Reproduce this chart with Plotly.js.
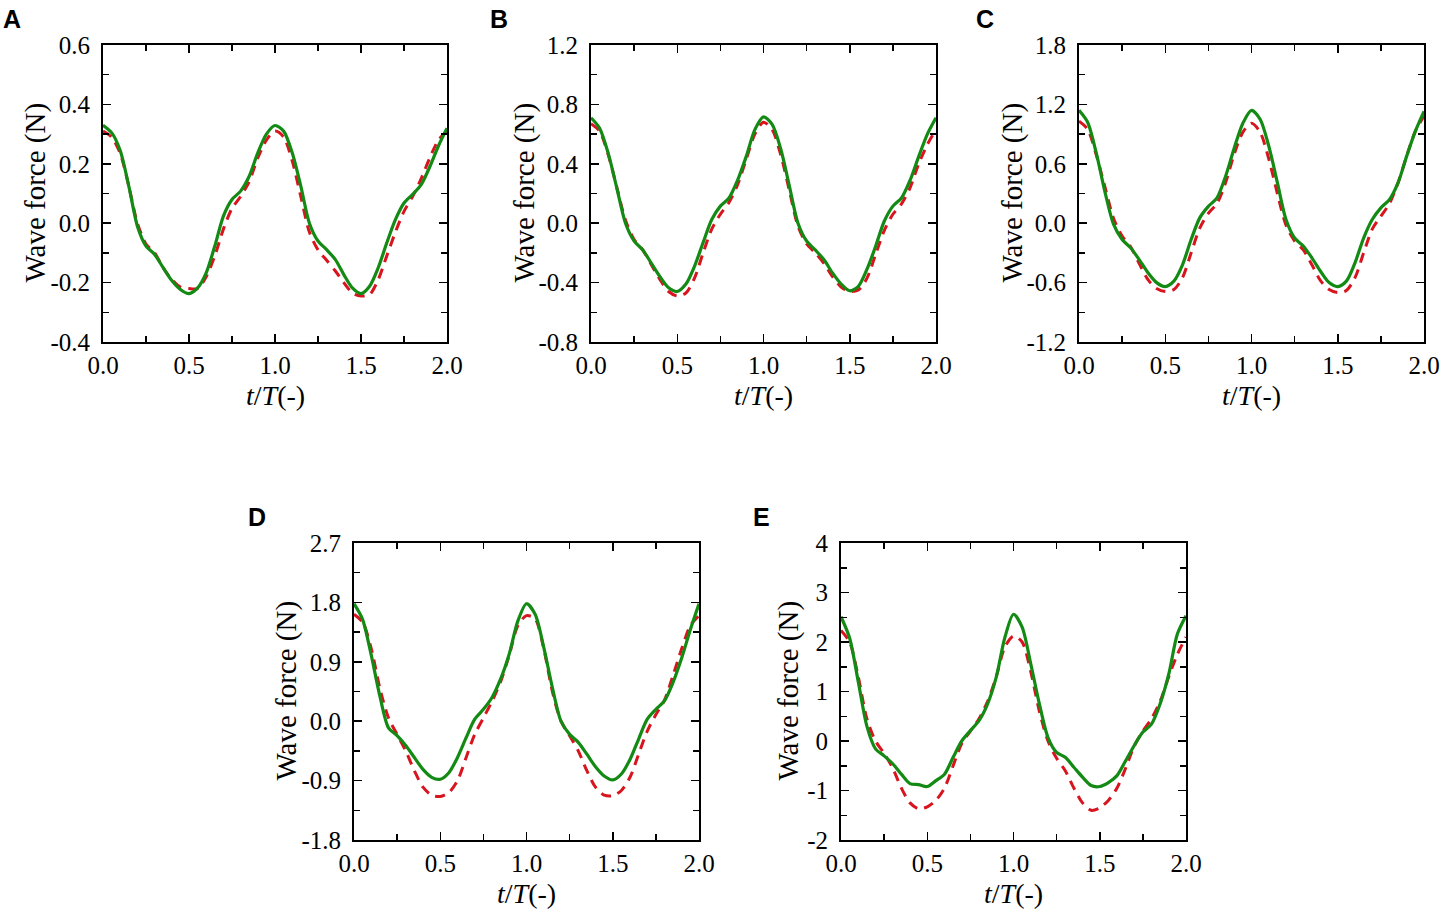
<!DOCTYPE html>
<html>
<head>
<meta charset="utf-8">
<script src="https://cdn.plot.ly/plotly-3.0.1.min.js"></script>
<style>
  html, body { margin: 0; padding: 0; background: #fff; }
  #chart { width: 1443px; height: 910px; }
</style>
</head>
<body>
<div id="chart"></div>
<script>
// t/T sample points, shared by all panels
const tT = [0, 0.05, 0.1, 0.15, 0.2, 0.25, 0.3, 0.35, 0.4, 0.45, 0.5, 0.55, 0.6, 0.65, 0.7, 0.75, 0.8, 0.85, 0.9, 0.95,
            1.0, 1.05, 1.1, 1.15, 1.2, 1.25, 1.3, 1.35, 1.4, 1.45, 1.5, 1.55, 1.6, 1.65, 1.7, 1.75, 1.8, 1.85, 1.9, 1.95, 2.0]

// panel A
const aSolid = [0.33, 0.305, 0.245, 0.125, -0.01, -0.077, -0.105, -0.15, -0.193, -0.223, -0.237, -0.218, -0.167, -0.077, 0.024, 0.08, 0.108, 0.158, 0.237, 0.30,
                0.329, 0.31, 0.237, 0.125, 0.0, -0.06, -0.089, -0.122, -0.173, -0.218, -0.237, -0.212, -0.15, -0.066, 0.012, 0.068, 0.097, 0.13, 0.19, 0.26, 0.32]
const aDash = [0.31, 0.29, 0.235, 0.125, 0.0, -0.07, -0.1, -0.15, -0.19, -0.215, -0.22, -0.22, -0.18, -0.11, -0.02, 0.05, 0.09, 0.14, 0.22, 0.28,
               0.31, 0.29, 0.21, 0.09, -0.03, -0.09, -0.125, -0.16, -0.2, -0.235, -0.245, -0.24, -0.19, -0.11, -0.03, 0.04, 0.09, 0.15, 0.22, 0.28, 0.31]

// panel B
const bSolid = [0.71, 0.64, 0.47, 0.235, 0.0, -0.12, -0.18, -0.27, -0.36, -0.435, -0.46, -0.41, -0.29, -0.13, 0.025, 0.115, 0.17, 0.29, 0.45, 0.63,
                0.716, 0.665, 0.5, 0.25, 0.0, -0.12, -0.18, -0.245, -0.335, -0.41, -0.455, -0.425, -0.31, -0.155, 0.013, 0.115, 0.17, 0.29, 0.45, 0.6, 0.71]
const bDash = [0.67, 0.62, 0.46, 0.24, 0.02, -0.11, -0.18, -0.28, -0.38, -0.46, -0.49, -0.47, -0.37, -0.2, -0.04, 0.06, 0.14, 0.26, 0.43, 0.6,
               0.68, 0.63, 0.46, 0.22, -0.02, -0.14, -0.2, -0.27, -0.36, -0.43, -0.46, -0.45, -0.37, -0.21, -0.05, 0.06, 0.13, 0.24, 0.4, 0.53, 0.63]

// panel C
const cSolid = [1.14, 1.02, 0.71, 0.32, -0.01, -0.165, -0.25, -0.37, -0.5, -0.6, -0.64, -0.585, -0.42, -0.165, 0.054, 0.17, 0.256, 0.475, 0.76, 1.01,
                1.14, 1.05, 0.78, 0.41, 0.037, -0.15, -0.23, -0.35, -0.485, -0.6, -0.64, -0.585, -0.4, -0.15, 0.037, 0.155, 0.24, 0.41, 0.68, 0.93, 1.13]
const cDash = [1.03, 0.95, 0.69, 0.37, 0.05, -0.13, -0.24, -0.41, -0.57, -0.66, -0.69, -0.67, -0.55, -0.3, -0.05, 0.1, 0.2, 0.41, 0.7, 0.92,
               1.01, 0.92, 0.65, 0.3, -0.02, -0.18, -0.27, -0.42, -0.58, -0.67, -0.7, -0.68, -0.55, -0.3, -0.06, 0.07, 0.2, 0.41, 0.68, 0.93, 1.08]

// panel D
const dSolid = [1.78, 1.54, 1.0, 0.38, -0.1, -0.22, -0.37, -0.55, -0.73, -0.85, -0.88, -0.78, -0.55, -0.25, 0.03, 0.18, 0.36, 0.64, 1.02, 1.52,
                1.78, 1.62, 1.12, 0.51, 0.0, -0.2, -0.32, -0.5, -0.69, -0.83, -0.89, -0.8, -0.58, -0.27, 0.03, 0.18, 0.31, 0.59, 0.96, 1.39, 1.78]
const dDash = [1.62, 1.5, 1.1, 0.5, 0.05, -0.2, -0.45, -0.75, -1.0, -1.12, -1.14, -1.08, -0.9, -0.55, -0.2, 0.05, 0.3, 0.6, 1.0, 1.45,
               1.6, 1.55, 1.1, 0.45, 0.0, -0.22, -0.45, -0.75, -1.0, -1.12, -1.13, -1.05, -0.85, -0.5, -0.15, 0.1, 0.32, 0.7, 1.1, 1.45, 1.6]

// panel E
const eSolid = [2.51, 2.08, 1.2, 0.3, -0.16, -0.3, -0.46, -0.67, -0.86, -0.88, -0.92, -0.8, -0.67, -0.33, 0.0, 0.21, 0.41, 0.75, 1.29, 2.09,
                2.56, 2.3, 1.56, 0.75, 0.07, -0.23, -0.33, -0.53, -0.73, -0.9, -0.92, -0.84, -0.7, -0.4, -0.09, 0.18, 0.34, 0.75, 1.35, 2.16, 2.53]
const eDash = [2.23, 2.0, 1.3, 0.45, 0.0, -0.25, -0.55, -0.95, -1.25, -1.37, -1.33, -1.2, -0.95, -0.5, -0.05, 0.2, 0.45, 0.8, 1.3, 1.9,
               2.12, 2.0, 1.4, 0.6, 0.0, -0.35, -0.6, -0.95, -1.25, -1.4, -1.35, -1.2, -0.95, -0.55, -0.1, 0.2, 0.45, 0.8, 1.3, 1.75, 2.1]

// tick labels
const xTickVals = [0, 0.5, 1.0, 1.5, 2.0]
const xTickText = ['0.0', '0.5', '1.0', '1.5', '2.0']
const aTicks = [0.6, 0.4, 0.2, 0.0, -0.2, -0.4]
const aTickText = ['0.6', '0.4', '0.2', '0.0', '-0.2', '-0.4']
const bTicks = [1.2, 0.8, 0.4, 0.0, -0.4, -0.8]
const bTickText = ['1.2', '0.8', '0.4', '0.0', '-0.4', '-0.8']
const cTicks = [1.8, 1.2, 0.6, 0.0, -0.6, -1.2]
const cTickText = ['1.8', '1.2', '0.6', '0.0', '-0.6', '-1.2']
const dTicks = [2.7, 1.8, 0.9, 0.0, -0.9, -1.8]
const dTickText = ['2.7', '1.8', '0.9', '0.0', '-0.9', '-1.8']
const eTicks = [4, 3, 2, 1, 0, -1, -2]
const eTickText = ['4', '3', '2', '1', '0', '-1', '-2']

const panelLetters = ['A', 'B', 'C', 'D', 'E']
const xTitle = '<i>t</i>/<i>T</i>(-)'
const yTitle = 'Wave force (N)'

const W = 1443, H = 910
// pixel boxes of each plot area: [left, right, top, bottom]
const boxes = [
    [103, 447, 45, 342],
    [591, 936, 45, 342],
    [1079, 1424, 45, 342],
    [354, 699, 543, 840],
    [841, 1186, 543, 840]
]
const letterPos = [[1, 3], [488, 3], [974, 3], [246, 501], [751, 501]]
const yTitleGap = [68, 67, 67, 68, 53]   // plot left edge -> y title centre

const panels = [
    { solid: aSolid, dash: aDash, ticks: aTicks, text: aTickText },
    { solid: bSolid, dash: bDash, ticks: bTicks, text: bTickText },
    { solid: cSolid, dash: cDash, ticks: cTicks, text: cTickText },
    { solid: dSolid, dash: dDash, ticks: dTicks, text: dTickText },
    { solid: eSolid, dash: eDash, ticks: eTicks, text: eTickText }
]

const serif = 'Liberation Serif, Times New Roman, serif'
const green = '#138a13'
const red = '#d8141e'

let data = []
let layout = {
    width: W,
    height: H,
    margin: { l: 0, r: 0, t: 0, b: 0 },
    paper_bgcolor: '#fff',
    plot_bgcolor: '#fff',
    showlegend: false,
    font: { family: serif, size: 24, color: '#000' },
    annotations: []
}

panels.forEach((p, i) => {
    const n = i + 1
    const xa = 'x' + (n === 1 ? '' : n)
    const ya = 'y' + (n === 1 ? '' : n)
    data.push({
        x: tT, y: p.dash, xaxis: xa, yaxis: ya,
        type: 'scatter', mode: 'lines', name: 'dashed',
        line: { color: red, width: 3, dash: '10px,7px', shape: 'spline', smoothing: 0.8 }
    })
    data.push({
        x: tT, y: p.solid, xaxis: xa, yaxis: ya,
        type: 'scatter', mode: 'lines', name: 'solid',
        line: { color: green, width: 3.2, shape: 'spline', smoothing: 0.8 }
    })

    const [l, r, t, b] = boxes[i]
    const ymax = p.ticks[0], ymin = p.ticks[p.ticks.length - 1]
    const ystep = p.ticks[0] - p.ticks[1]
    layout['xaxis' + (n === 1 ? '' : n)] = {
        domain: [l / W, r / W],
        anchor: ya,
        range: [0, 2],
        tickmode: 'array',
        tickvals: xTickVals,
        ticktext: xTickText,
        ticks: 'inside', ticklen: 8, tickwidth: 1.5, tickcolor: '#000',
        minor: { tickmode: 'linear', tick0: 0, dtick: 0.25, ticks: 'inside', ticklen: 6, tickwidth: 1.5, tickcolor: '#000' },
        showline: true, linecolor: '#000', linewidth: 2, mirror: 'ticks',
        showgrid: false, zeroline: false,
        tickfont: { family: serif, size: 25 },
        ticklabelstandoff: 0
    }
    layout['yaxis' + (n === 1 ? '' : n)] = {
        domain: [1 - b / H, 1 - t / H],
        anchor: xa,
        range: [ymin, ymax],
        tickmode: 'array',
        tickvals: p.ticks,
        ticktext: p.text,
        ticks: 'inside', ticklen: 8, tickwidth: 1.5, tickcolor: '#000',
        minor: { tickmode: 'linear', tick0: 0, dtick: ystep / 2, ticks: 'inside', ticklen: 6, tickwidth: 1.5, tickcolor: '#000' },
        showline: true, linecolor: '#000', linewidth: 2, mirror: 'ticks',
        showgrid: false, zeroline: false,
        tickfont: { family: serif, size: 25 },
        ticklabelstandoff: 6
    }

    // axis titles as annotations so they sit where the reference has them
    layout.annotations.push({
        xref: 'paper', yref: 'paper',
        x: (l + r) / 2 / W, y: 1 - (b + 53) / H,
        xanchor: 'center', yanchor: 'middle',
        text: xTitle, showarrow: false,
        font: { family: serif, size: 28, color: '#000' }
    })
    layout.annotations.push({
        xref: 'paper', yref: 'paper',
        x: (l - yTitleGap[i]) / W, y: 1 - ((t + b) / 2 - 1) / H,
        xanchor: 'center', yanchor: 'middle',
        text: yTitle, textangle: -90, showarrow: false,
        font: { family: serif, size: 29, color: '#000' }
    })
    layout.annotations.push({
        xref: 'paper', yref: 'paper',
        x: letterPos[i][0] / W, y: 1 - letterPos[i][1] / H,
        xanchor: 'left', yanchor: 'top',
        text: '<b>' + panelLetters[i] + '</b>',
        showarrow: false,
        font: { family: 'Liberation Sans, Arial, sans-serif', size: 25, color: '#000' }
    })
})

Plotly.newPlot('chart', data, layout, { staticPlot: true })
</script>
</body>
</html>
